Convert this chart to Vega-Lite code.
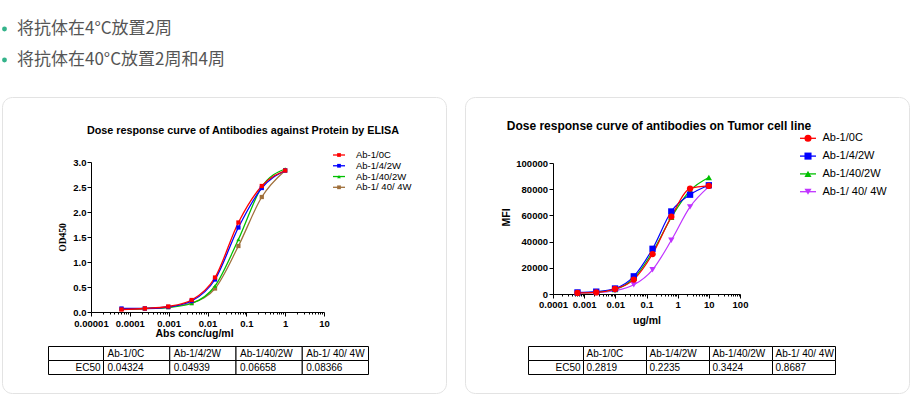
{
  "$schema": "https://vega.github.io/schema/vega-lite/v6.json",
  "width": 911,
  "height": 396,
  "autosize": {"type": "none"},
  "padding": 0,
  "background": "#ffffff",
  "config": {
    "view": {"stroke": null},
    "font": "Liberation Sans",
    "axis": {"zindex": 1, "grid": false, "domainColor": "#000000", "tickColor": "#000000", "labelColor": "#000000", "titleColor": "#000000", "labelFont": "Liberation Sans", "titleFont": "Liberation Sans", "labelOverlap": false, "labelFlush": false, "labelBound": false},
    "text": {"font": "Liberation Sans"}
  },
  "datasets": {
    "panels": [{"panel": "ELISA"}, {"panel": "Tumor cell line"}],
    "bullets": [
      {"line": 1, "text": "将抗体在4°C放置2周"},
      {"line": 2, "text": "将抗体在40°C放置2周和4周"}
    ],
    "titles": [
      {"panel": "ELISA", "title": "Dose response curve of Antibodies against Protein by ELISA"},
      {"panel": "Tumor cell line", "title": "Dose response curve of antibodies on Tumor cell line"}
    ],
    "elisa": [
      {"antibody": "Ab-1/ 40/ 4W", "conc": 0.00006103515625, "od450": 0.06},
      {"antibody": "Ab-1/ 40/ 4W", "conc": 0.000244140625, "od450": 0.07},
      {"antibody": "Ab-1/ 40/ 4W", "conc": 0.0009765625, "od450": 0.10},
      {"antibody": "Ab-1/ 40/ 4W", "conc": 0.00390625, "od450": 0.18},
      {"antibody": "Ab-1/ 40/ 4W", "conc": 0.015625, "od450": 0.47},
      {"antibody": "Ab-1/ 40/ 4W", "conc": 0.0625, "od450": 1.32},
      {"antibody": "Ab-1/ 40/ 4W", "conc": 0.25, "od450": 2.30},
      {"antibody": "Ab-1/ 40/ 4W", "conc": 1, "od450": 2.83},
      {"antibody": "Ab-1/40/2W", "conc": 0.00006103515625, "od450": 0.06},
      {"antibody": "Ab-1/40/2W", "conc": 0.000244140625, "od450": 0.07},
      {"antibody": "Ab-1/40/2W", "conc": 0.0009765625, "od450": 0.09},
      {"antibody": "Ab-1/40/2W", "conc": 0.00390625, "od450": 0.17},
      {"antibody": "Ab-1/40/2W", "conc": 0.015625, "od450": 0.52},
      {"antibody": "Ab-1/40/2W", "conc": 0.0625, "od450": 1.45},
      {"antibody": "Ab-1/40/2W", "conc": 0.25, "od450": 2.50},
      {"antibody": "Ab-1/40/2W", "conc": 1, "od450": 2.86},
      {"antibody": "Ab-1/4/2W", "conc": 0.00006103515625, "od450": 0.07},
      {"antibody": "Ab-1/4/2W", "conc": 0.000244140625, "od450": 0.07},
      {"antibody": "Ab-1/4/2W", "conc": 0.0009765625, "od450": 0.10},
      {"antibody": "Ab-1/4/2W", "conc": 0.00390625, "od450": 0.22},
      {"antibody": "Ab-1/4/2W", "conc": 0.015625, "od450": 0.65},
      {"antibody": "Ab-1/4/2W", "conc": 0.0625, "od450": 1.69},
      {"antibody": "Ab-1/4/2W", "conc": 0.25, "od450": 2.48},
      {"antibody": "Ab-1/4/2W", "conc": 1, "od450": 2.83},
      {"antibody": "Ab-1/0C", "conc": 0.00006103515625, "od450": 0.05},
      {"antibody": "Ab-1/0C", "conc": 0.000244140625, "od450": 0.07},
      {"antibody": "Ab-1/0C", "conc": 0.0009765625, "od450": 0.11},
      {"antibody": "Ab-1/0C", "conc": 0.00390625, "od450": 0.24},
      {"antibody": "Ab-1/0C", "conc": 0.015625, "od450": 0.69},
      {"antibody": "Ab-1/0C", "conc": 0.0625, "od450": 1.79},
      {"antibody": "Ab-1/0C", "conc": 0.25, "od450": 2.52},
      {"antibody": "Ab-1/0C", "conc": 1, "od450": 2.83}
    ],
    "tumor": [
      {"antibody": "Ab-1/ 40/ 4W", "conc": 0.0006103515625, "mfi": 800},
      {"antibody": "Ab-1/ 40/ 4W", "conc": 0.00244140625, "mfi": 1000},
      {"antibody": "Ab-1/ 40/ 4W", "conc": 0.009765625, "mfi": 2500},
      {"antibody": "Ab-1/ 40/ 4W", "conc": 0.0390625, "mfi": 7000},
      {"antibody": "Ab-1/ 40/ 4W", "conc": 0.15625, "mfi": 18500},
      {"antibody": "Ab-1/ 40/ 4W", "conc": 0.625, "mfi": 41000},
      {"antibody": "Ab-1/ 40/ 4W", "conc": 2.5, "mfi": 66500},
      {"antibody": "Ab-1/ 40/ 4W", "conc": 10, "mfi": 82000},
      {"antibody": "Ab-1/40/2W", "conc": 0.0006103515625, "mfi": 1000},
      {"antibody": "Ab-1/40/2W", "conc": 0.00244140625, "mfi": 1500},
      {"antibody": "Ab-1/40/2W", "conc": 0.009765625, "mfi": 3500},
      {"antibody": "Ab-1/40/2W", "conc": 0.0390625, "mfi": 12000},
      {"antibody": "Ab-1/40/2W", "conc": 0.15625, "mfi": 32000},
      {"antibody": "Ab-1/40/2W", "conc": 0.625, "mfi": 58500},
      {"antibody": "Ab-1/40/2W", "conc": 2.5, "mfi": 79000},
      {"antibody": "Ab-1/40/2W", "conc": 10, "mfi": 89000},
      {"antibody": "Ab-1/4/2W", "conc": 0.0006103515625, "mfi": 1200},
      {"antibody": "Ab-1/4/2W", "conc": 0.00244140625, "mfi": 1800},
      {"antibody": "Ab-1/4/2W", "conc": 0.009765625, "mfi": 4200},
      {"antibody": "Ab-1/4/2W", "conc": 0.0390625, "mfi": 13500},
      {"antibody": "Ab-1/4/2W", "conc": 0.15625, "mfi": 34500},
      {"antibody": "Ab-1/4/2W", "conc": 0.625, "mfi": 63000},
      {"antibody": "Ab-1/4/2W", "conc": 2.5, "mfi": 75800},
      {"antibody": "Ab-1/4/2W", "conc": 10, "mfi": 83000},
      {"antibody": "Ab-1/0C", "conc": 0.0006103515625, "mfi": 800},
      {"antibody": "Ab-1/0C", "conc": 0.00244140625, "mfi": 1200},
      {"antibody": "Ab-1/0C", "conc": 0.009765625, "mfi": 3800},
      {"antibody": "Ab-1/0C", "conc": 0.0390625, "mfi": 11000},
      {"antibody": "Ab-1/0C", "conc": 0.15625, "mfi": 30500},
      {"antibody": "Ab-1/0C", "conc": 0.625, "mfi": 59000},
      {"antibody": "Ab-1/0C", "conc": 2.5, "mfi": 80500},
      {"antibody": "Ab-1/0C", "conc": 10, "mfi": 82500}
    ],
    "ec50_elisa": [
      {"antibody": "Ab-1/0C", "ec50": "0.04324"},
      {"antibody": "Ab-1/4/2W", "ec50": "0.04939"},
      {"antibody": "Ab-1/40/2W", "ec50": "0.06658"},
      {"antibody": "Ab-1/ 40/ 4W", "ec50": "0.08366"}
    ],
    "ec50_tumor": [
      {"antibody": "Ab-1/0C", "ec50": "0.2819"},
      {"antibody": "Ab-1/4/2W", "ec50": "0.2235"},
      {"antibody": "Ab-1/40/2W", "ec50": "0.3424"},
      {"antibody": "Ab-1/ 40/ 4W", "ec50": "0.8687"}
    ]
  },
  "resolve": {"scale": {"x": "independent", "y": "independent", "stroke": "independent", "fill": "independent", "shape": "independent"}},
  "layer": [
    {
      "data": {"name": "panels"},
      "mark": {"type": "rect", "fill": "transparent", "stroke": "#e3e3e3", "strokeWidth": 1, "cornerRadius": 10},
      "encoding": {
        "x": {"field": "panel", "type": "nominal", "axis": null, "scale": {"domain": ["ELISA", "Tumor cell line"], "range": [2.5, 909.5], "paddingInner": 0.041, "paddingOuter": 0}},
        "y": {"datum": "card", "type": "nominal", "axis": null, "scale": {"range": [97.5, 393.5], "paddingInner": 0, "paddingOuter": 0}}
      }
    },
    {
      "data": {"name": "bullets"},
      "layer": [
        {
          "mark": {"type": "point", "filled": true, "shape": "circle", "size": 24, "color": "#34b38a", "opacity": 1},
          "encoding": {
            "x": {"datum": "bullet", "type": "nominal", "axis": null, "scale": {"type": "point", "domain": ["bullet", "text"], "range": [4.5, 17], "padding": 0}},
            "y": {"field": "line", "type": "ordinal", "axis": null, "scale": {"type": "point", "range": [29, 60], "padding": 0}}
          }
        },
        {
          "mark": {"type": "text", "align": "left", "baseline": "middle", "font": "Noto Sans CJK SC", "fontSize": 17, "color": "#555555"},
          "encoding": {
            "x": {"datum": "text", "type": "nominal"},
            "y": {"field": "line", "type": "ordinal"},
            "text": {"field": "text"}
          }
        }
      ]
    },
    {
      "data": {"name": "titles"},
      "encoding": {
        "x": {"field": "panel", "type": "nominal", "axis": null, "scale": {"type": "point", "domain": ["ELISA", "Tumor cell line"], "range": [243, 659], "padding": 0}},
        "y": {"field": "panel", "type": "nominal", "axis": null, "scale": {"type": "point", "domain": ["ELISA", "Tumor cell line"], "range": [131, 126], "padding": 0}},
        "text": {"field": "title"}
      },
      "layer": [
        {"transform": [{"filter": "datum.panel === 'ELISA'"}], "mark": {"type": "text", "fontSize": 10.8, "fontWeight": "bold", "color": "#000000", "baseline": "middle", "align": "center"}},
        {"transform": [{"filter": "datum.panel === 'Tumor cell line'"}], "mark": {"type": "text", "fontSize": 12, "fontWeight": "bold", "color": "#000000", "baseline": "middle", "align": "center"}}
      ]
    },
    {
      "data": {"name": "elisa"},
      "encoding": {
        "x": {
          "field": "conc", "type": "quantitative",
          "scale": {"type": "log", "domain": [0.00001, 10], "range": [91, 324], "nice": false},
          "axis": {
            "orient": "bottom", "offset": -84,
            "values": [0.00001,0.00002,0.00003,0.00004,0.00005,0.00006,0.00007,0.00008,0.00009,0.0001,0.0002,0.0003,0.0004,0.0005,0.0006,0.0007,0.0008,0.0009,0.001,0.002,0.003,0.004,0.005,0.006,0.007,0.008,0.009,0.01,0.02,0.03,0.04,0.05,0.06,0.07,0.08,0.09,0.1,0.2,0.3,0.4,0.5,0.6,0.7,0.8,0.9,1,2,3,4,5,6,7,8,9,10],
            "format": "~g",
            "labelExpr": "abs(log(datum.value)/LN10 - round(log(datum.value)/LN10)) < 0.001 ? datum.label : ''",
            "tickSize": {"condition": {"test": "abs(log(datum.value)/LN10 - round(log(datum.value)/LN10)) < 0.001", "value": 4}, "value": 2},
            "labelFontSize": 9.5, "labelFontWeight": "bold", "labelPadding": 2,
            "title": "Abs conc/ug/ml", "titleFontSize": 10.5, "titleFontWeight": "bold", "titlePadding": 1, "titleX": 194
          }
        },
        "y": {
          "field": "od450", "type": "quantitative",
          "scale": {"domain": [0, 3], "range": [312, 162], "nice": false, "zero": false},
          "axis": {
            "orient": "left", "offset": -91, "values": [0, 0.5, 1, 1.5, 2, 2.5, 3], "format": ".1f",
            "tickSize": 4, "labelFontSize": 9.5, "labelFontWeight": "bold", "labelPadding": 1,
            "title": "OD450", "titleFont": "Liberation Serif", "titleFontSize": 9.5, "titleFontWeight": "bold", "titlePadding": 5
          }
        }
      },
      "layer": [
        {
          "mark": {"type": "line", "interpolate": "monotone", "strokeWidth": 1.3},
          "encoding": {
            "stroke": {"field": "antibody", "type": "nominal", "legend": null, "scale": {"domain": ["Ab-1/0C", "Ab-1/4/2W", "Ab-1/40/2W", "Ab-1/ 40/ 4W"], "range": ["#ff0000", "#0000ff", "#00c000", "#a0703c"]}}
          }
        },
        {
          "mark": {"type": "point", "filled": true, "opacity": 1, "size": 18},
          "encoding": {
            "fill": {"field": "antibody", "type": "nominal", "legend": null, "scale": {"domain": ["Ab-1/0C", "Ab-1/4/2W", "Ab-1/40/2W", "Ab-1/ 40/ 4W"], "range": ["#ff0000", "#0000ff", "#00c000", "#a0703c"]}},
            "shape": {"field": "antibody", "type": "nominal", "legend": null, "scale": {"domain": ["Ab-1/0C", "Ab-1/4/2W", "Ab-1/40/2W", "Ab-1/ 40/ 4W"], "range": ["square", "square", "triangle-up", "square"]}}
          }
        }
      ]
    },
    {
      "data": {"name": "ec50_elisa"},
      "encoding": {"y": {"field": "antibody", "type": "nominal", "axis": null, "scale": {"type": "point", "domain": ["Ab-1/0C", "Ab-1/4/2W", "Ab-1/40/2W", "Ab-1/ 40/ 4W"], "range": [155, 187.3], "padding": 0}}},
      "layer": [
        {
          "mark": {"type": "rule", "strokeWidth": 1.3},
          "encoding": {
            "x": {"datum": 0, "type": "quantitative", "axis": null, "scale": {"domain": [0, 1], "range": [333, 345], "nice": false, "zero": false}},
            "x2": {"datum": 1},
            "stroke": {"field": "antibody", "type": "nominal", "legend": null, "scale": {"domain": ["Ab-1/0C", "Ab-1/4/2W", "Ab-1/40/2W", "Ab-1/ 40/ 4W"], "range": ["#ff0000", "#0000ff", "#00c000", "#a0703c"]}}
          }
        },
        {
          "mark": {"type": "point", "filled": true, "opacity": 1, "size": 14},
          "encoding": {
            "x": {"datum": 0.5, "type": "quantitative"},
            "fill": {"field": "antibody", "type": "nominal", "legend": null, "scale": {"domain": ["Ab-1/0C", "Ab-1/4/2W", "Ab-1/40/2W", "Ab-1/ 40/ 4W"], "range": ["#ff0000", "#0000ff", "#00c000", "#a0703c"]}},
            "shape": {"field": "antibody", "type": "nominal", "legend": null, "scale": {"domain": ["Ab-1/0C", "Ab-1/4/2W", "Ab-1/40/2W", "Ab-1/ 40/ 4W"], "range": ["square", "square", "triangle-up", "square"]}}
          }
        },
        {
          "mark": {"type": "text", "align": "left", "baseline": "middle", "fontSize": 9.5, "color": "#000000"},
          "encoding": {"x": {"datum": 1.917, "type": "quantitative"}, "text": {"field": "antibody"}}
        }
      ]
    },
    {
      "data": {"name": "tumor"},
      "encoding": {
        "x": {
          "field": "conc", "type": "quantitative",
          "scale": {"type": "log", "domain": [0.0001, 100], "range": [553, 740], "nice": false},
          "axis": {
            "orient": "bottom", "offset": -102,
            "values": [0.0001,0.0002,0.0003,0.0004,0.0005,0.0006,0.0007,0.0008,0.0009,0.001,0.002,0.003,0.004,0.005,0.006,0.007,0.008,0.009,0.01,0.02,0.03,0.04,0.05,0.06,0.07,0.08,0.09,0.1,0.2,0.3,0.4,0.5,0.6,0.7,0.8,0.9,1,2,3,4,5,6,7,8,9,10,20,30,40,50,60,70,80,90,100],
            "format": "~g",
            "labelExpr": "abs(log(datum.value)/LN10 - round(log(datum.value)/LN10)) < 0.001 ? datum.label : ''",
            "tickSize": {"condition": {"test": "abs(log(datum.value)/LN10 - round(log(datum.value)/LN10)) < 0.001", "value": 4}, "value": 2},
            "labelFontSize": 9.5, "labelFontWeight": "bold", "labelPadding": 1,
            "title": "ug/ml", "titleFontSize": 10.5, "titleFontWeight": "bold", "titlePadding": 7
          }
        },
        "y": {
          "field": "mfi", "type": "quantitative",
          "scale": {"domain": [0, 100000], "range": [294, 163], "nice": false, "zero": false},
          "axis": {
            "orient": "left", "offset": -553, "values": [0, 20000, 40000, 60000, 80000, 100000], "format": "d",
            "tickSize": 4, "labelFontSize": 9.5, "labelFontWeight": "bold", "labelPadding": 1.5,
            "title": "MFI", "titleFontSize": 10.5, "titleFontWeight": "bold", "titlePadding": 4, "titleY": 217
          }
        }
      },
      "layer": [
        {
          "mark": {"type": "line", "interpolate": "monotone", "strokeWidth": 1.2},
          "encoding": {
            "stroke": {"field": "antibody", "type": "nominal", "legend": null, "scale": {"domain": ["Ab-1/0C", "Ab-1/4/2W", "Ab-1/40/2W", "Ab-1/ 40/ 4W"], "range": ["#ff0000", "#0000ff", "#00c000", "#c033ff"]}}
          }
        },
        {
          "mark": {"type": "point", "filled": true, "opacity": 1, "size": 40},
          "encoding": {
            "fill": {"field": "antibody", "type": "nominal", "legend": null, "scale": {"domain": ["Ab-1/0C", "Ab-1/4/2W", "Ab-1/40/2W", "Ab-1/ 40/ 4W"], "range": ["#ff0000", "#0000ff", "#00c000", "#c033ff"]}},
            "shape": {"field": "antibody", "type": "nominal", "legend": null, "scale": {"domain": ["Ab-1/0C", "Ab-1/4/2W", "Ab-1/40/2W", "Ab-1/ 40/ 4W"], "range": ["circle", "square", "triangle-up", "triangle-down"]}}
          }
        }
      ]
    },
    {
      "data": {"name": "ec50_tumor"},
      "encoding": {"y": {"field": "antibody", "type": "nominal", "axis": null, "scale": {"type": "point", "domain": ["Ab-1/0C", "Ab-1/4/2W", "Ab-1/40/2W", "Ab-1/ 40/ 4W"], "range": [138.3, 191.7], "padding": 0}}},
      "layer": [
        {
          "mark": {"type": "rule", "strokeWidth": 1.3},
          "encoding": {
            "x": {"datum": 0, "type": "quantitative", "axis": null, "scale": {"domain": [0, 1], "range": [800, 816], "nice": false, "zero": false}},
            "x2": {"datum": 1},
            "stroke": {"field": "antibody", "type": "nominal", "legend": null, "scale": {"domain": ["Ab-1/0C", "Ab-1/4/2W", "Ab-1/40/2W", "Ab-1/ 40/ 4W"], "range": ["#ff0000", "#0000ff", "#00c000", "#c033ff"]}}
          }
        },
        {
          "mark": {"type": "point", "filled": true, "opacity": 1, "size": 50},
          "encoding": {
            "x": {"datum": 0.5, "type": "quantitative"},
            "fill": {"field": "antibody", "type": "nominal", "legend": null, "scale": {"domain": ["Ab-1/0C", "Ab-1/4/2W", "Ab-1/40/2W", "Ab-1/ 40/ 4W"], "range": ["#ff0000", "#0000ff", "#00c000", "#c033ff"]}},
            "shape": {"field": "antibody", "type": "nominal", "legend": null, "scale": {"domain": ["Ab-1/0C", "Ab-1/4/2W", "Ab-1/40/2W", "Ab-1/ 40/ 4W"], "range": ["circle", "square", "triangle-up", "triangle-down"]}}
          }
        },
        {
          "mark": {"type": "text", "align": "left", "baseline": "middle", "fontSize": 11, "color": "#000000"},
          "encoding": {"x": {"datum": 1.406, "type": "quantitative"}, "text": {"field": "antibody"}}
        }
      ]
    },
    {
      "resolve": {"scale": {"x": "independent"}},
      "layer": [
        {
          "data": {"name": "ec50_elisa"},
          "encoding": {"x": {"field": "antibody", "type": "nominal", "axis": null, "scale": {"domain": ["Ab-1/0C", "Ab-1/4/2W", "Ab-1/40/2W", "Ab-1/ 40/ 4W"], "range": [103.5, 368.5], "paddingInner": 0, "paddingOuter": 0}}},
          "layer": [
            {"mark": {"type": "rect", "fill": "#ffffff", "stroke": "#000000", "strokeWidth": 1}, "encoding": {"y": {"datum": "header", "type": "nominal", "axis": null, "scale": {"domain": ["header", "EC50"], "range": [346.5, 374.5], "paddingInner": 0, "paddingOuter": 0}}}},
            {"mark": {"type": "rect", "fill": "#ffffff", "stroke": "#000000", "strokeWidth": 1}, "encoding": {"y": {"datum": "EC50", "type": "nominal"}}},
            {"mark": {"type": "text", "align": "left", "baseline": "middle", "dx": 4, "fontSize": 10, "color": "#000000"}, "encoding": {"x": {"field": "antibody", "type": "nominal", "bandPosition": 0}, "y": {"datum": "header", "type": "nominal"}, "text": {"field": "antibody"}}},
            {"mark": {"type": "text", "align": "left", "baseline": "middle", "dx": 4, "fontSize": 10, "color": "#000000"}, "encoding": {"x": {"field": "antibody", "type": "nominal", "bandPosition": 0}, "y": {"datum": "EC50", "type": "nominal"}, "text": {"field": "ec50"}}}
          ]
        },
        {
          "data": {"values": [{"metric": "EC50"}]},
          "encoding": {"x": {"field": "metric", "type": "nominal", "axis": null, "scale": {"range": [48.5, 103.5], "paddingInner": 0, "paddingOuter": 0}}},
          "layer": [
            {"mark": {"type": "rect", "fill": "#ffffff", "stroke": "#000000", "strokeWidth": 1}, "encoding": {"y": {"datum": "header", "type": "nominal"}}},
            {"mark": {"type": "rect", "fill": "#ffffff", "stroke": "#000000", "strokeWidth": 1}, "encoding": {"y": {"field": "metric", "type": "nominal"}}},
            {"mark": {"type": "text", "align": "right", "baseline": "middle", "dx": -3, "fontSize": 10, "color": "#000000"}, "encoding": {"x": {"field": "metric", "type": "nominal", "bandPosition": 1}, "y": {"field": "metric", "type": "nominal"}, "text": {"field": "metric"}}}
          ]
        }
      ]
    },
    {
      "resolve": {"scale": {"x": "independent"}},
      "layer": [
        {
          "data": {"name": "ec50_tumor"},
          "encoding": {"x": {"field": "antibody", "type": "nominal", "axis": null, "scale": {"domain": ["Ab-1/0C", "Ab-1/4/2W", "Ab-1/40/2W", "Ab-1/ 40/ 4W"], "range": [583.5, 835.5], "paddingInner": 0, "paddingOuter": 0}}},
          "layer": [
            {"mark": {"type": "rect", "fill": "#ffffff", "stroke": "#000000", "strokeWidth": 1}, "encoding": {"y": {"datum": "header", "type": "nominal", "axis": null, "scale": {"domain": ["header", "EC50"], "range": [346.5, 374.5], "paddingInner": 0, "paddingOuter": 0}}}},
            {"mark": {"type": "rect", "fill": "#ffffff", "stroke": "#000000", "strokeWidth": 1}, "encoding": {"y": {"datum": "EC50", "type": "nominal"}}},
            {"mark": {"type": "text", "align": "left", "baseline": "middle", "dx": 3, "fontSize": 10, "color": "#000000"}, "encoding": {"x": {"field": "antibody", "type": "nominal", "bandPosition": 0}, "y": {"datum": "header", "type": "nominal"}, "text": {"field": "antibody"}}},
            {"mark": {"type": "text", "align": "left", "baseline": "middle", "dx": 3, "fontSize": 10, "color": "#000000"}, "encoding": {"x": {"field": "antibody", "type": "nominal", "bandPosition": 0}, "y": {"datum": "EC50", "type": "nominal"}, "text": {"field": "ec50"}}}
          ]
        },
        {
          "data": {"values": [{"metric": "EC50"}]},
          "encoding": {"x": {"field": "metric", "type": "nominal", "axis": null, "scale": {"range": [528.5, 583.5], "paddingInner": 0, "paddingOuter": 0}}},
          "layer": [
            {"mark": {"type": "rect", "fill": "#ffffff", "stroke": "#000000", "strokeWidth": 1}, "encoding": {"y": {"datum": "header", "type": "nominal"}}},
            {"mark": {"type": "rect", "fill": "#ffffff", "stroke": "#000000", "strokeWidth": 1}, "encoding": {"y": {"field": "metric", "type": "nominal"}}},
            {"mark": {"type": "text", "align": "right", "baseline": "middle", "dx": -3, "fontSize": 10, "color": "#000000"}, "encoding": {"x": {"field": "metric", "type": "nominal", "bandPosition": 1}, "y": {"field": "metric", "type": "nominal"}, "text": {"field": "metric"}}}
          ]
        }
      ]
    }
  ]
}
